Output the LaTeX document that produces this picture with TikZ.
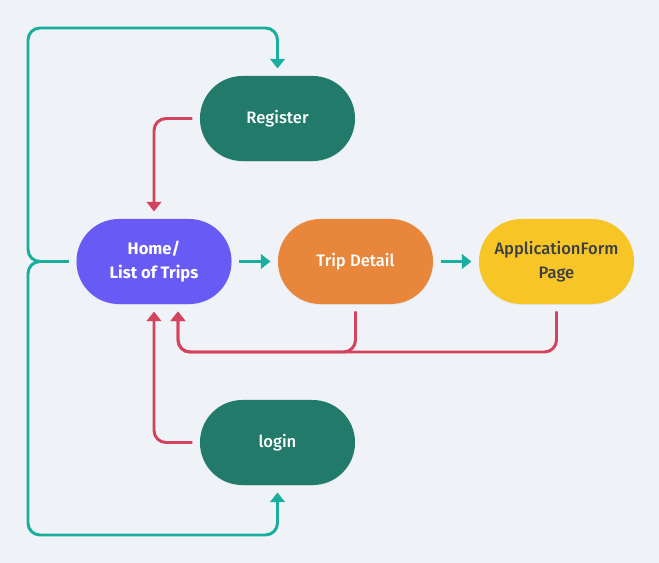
\documentclass[tikz,border=0pt]{standalone}
\usepackage{fontspec}
\setmainfont{Fira Sans}
\newfontfamily\medfont{Fira Sans Medium}
\usetikzlibrary{arrows.meta,calc,positioning,shadows}
\definecolor{cbg}{RGB}{239,243,247}
\definecolor{cauth}{RGB}{33,122,106}
\definecolor{chome}{RGB}{103,90,245}
\definecolor{ctrip}{RGB}{232,135,59}
\definecolor{cform}{RGB}{248,197,39}
\definecolor{cgo}{RGB}{26,174,159}
\definecolor{cback}{RGB}{212,67,94}
\definecolor{cdark}{RGB}{58,63,68}
\tikzset{
  page/.style={rectangle,rounded corners=1.06cm,draw=none,
    minimum width=3.875cm,minimum height=2.125cm,align=center,inner sep=4pt,
    font=\fontsize{11.8}{17}\selectfont\medfont,text=white,
    drop shadow={opacity=0.12,shadow xshift=0pt,shadow yshift=-0.6pt}},
  auth/.style={fill=cauth},
  home/.style={fill=chome,font=\fontsize{11.8}{17}\selectfont\bfseries},
  trip/.style={fill=ctrip},
  form/.style={fill=cform,text=cdark},
  % forward links in teal, links back to the list in red
  go/.style={cgo,line width=2.1pt,-{Triangle[width=3.6mm,length=2.4mm]},
    shorten <=1.8mm,shorten >=1.8mm,rounded corners=0.3cm},
  back/.style={go,cback}
}
\begin{document}
\begin{tikzpicture}[x=0.025cm,y=-0.025cm]
\fill[cbg] (0,0) rectangle (659,563);
\useasboundingbox (0,0) rectangle (659,563);
% ---------------- pages ----------------
\node[page,auth] (reg) at (277.5,118.5) {Register};
\node[page,home] (home) at (154,261.5) {Home/\\List of Trips};
\node[page,trip] (trip) at (355.5,261.5) {Trip Detail};
\node[page,form] (form) at (556.5,261.5) {ApplicationForm\\Page};
\node[page,auth] (login) at (277.5,442.5) {login};
% ---------------- rails ----------------
\coordinate (topleft) at (28,28);
\coordinate (botleft) at (28,535);
\coordinate (rail) at (0,352);
\coordinate (homeret) at ($(home.south)+(24,0)$);
% ---------------- forward ----------------
\draw[go] (home.west) -| (topleft) -| (reg.north);
\draw[go] (home.west) -| (botleft) -| (login.south);
\draw[go] (home) -- (trip);
\draw[go] (trip) -- (form);
% ---------------- back to the list ----------------
\draw[back] (reg.west) -| (home.north);
\draw[back] (login.west) -| (home.south);
\draw[back] (form.south) |- (homeret |- rail) -- (homeret);
\draw[back] (trip.south) |- (homeret |- rail) -- (homeret);
\end{tikzpicture}
\end{document}
